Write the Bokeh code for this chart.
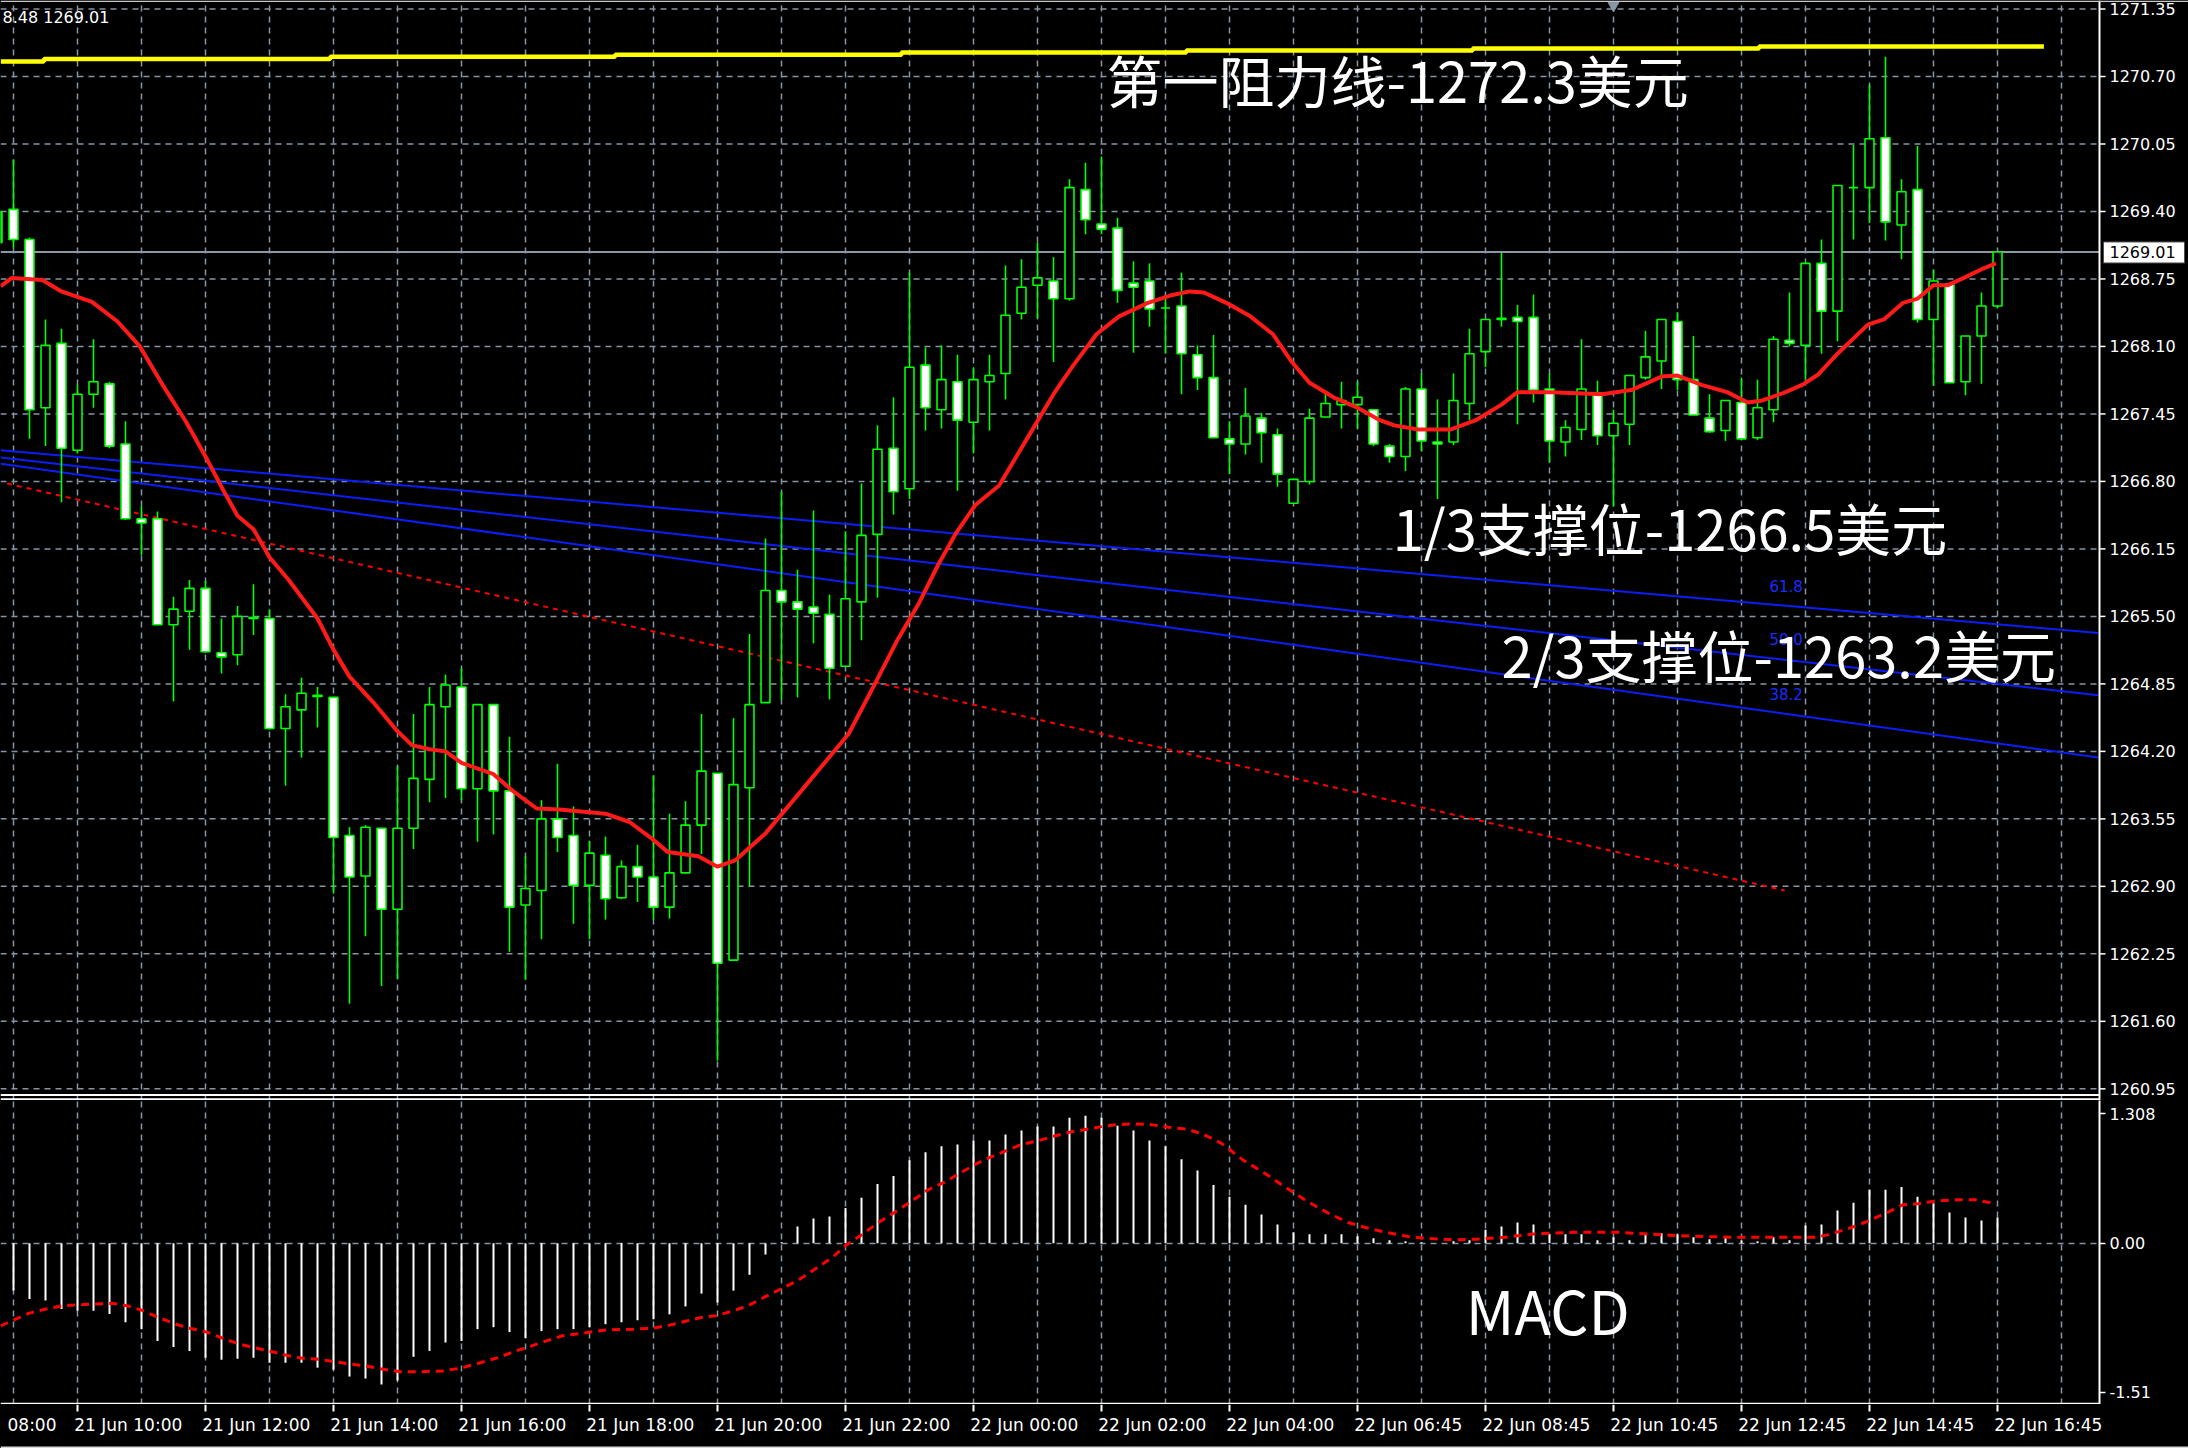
from bokeh.plotting import figure
from bokeh.layouts import column
from bokeh.models import Range1d, FixedTicker, Grid, CustomJSTickFormatter, Span
from bokeh.core.properties import value
from bokeh.embed import file_html
from bokeh.resources import INLINE

# ---------------- data ----------------
first_bar = -5   # bar index of first candle; bar 0 = 21 Jun 10:00, 15-minute bars

opens = [1269.40, 1269.42, 1269.13, 1267.51, 1268.13, 1267.10, 1267.64, 1267.74, 1267.16, 1266.44,
         1266.44, 1265.42, 1265.55, 1265.77, 1265.15, 1265.13, 1265.49, 1265.48, 1264.42, 1264.60,
         1264.74, 1264.72, 1263.39, 1263.00, 1263.46, 1262.68, 1263.46, 1263.93, 1264.63, 1264.82,
         1263.84, 1264.65, 1263.82, 1262.72, 1262.86, 1263.55, 1263.39, 1262.91, 1263.20, 1262.79,
         1263.09, 1262.99, 1262.70, 1263.03, 1263.49, 1263.99, 1262.19, 1263.85, 1264.67, 1265.75,
         1265.64, 1265.59, 1265.52, 1265.02, 1265.64, 1266.29, 1267.12, 1266.73, 1267.92, 1267.49,
         1267.76, 1267.37, 1267.76, 1267.84, 1268.42, 1268.69, 1268.73, 1268.56, 1269.61, 1269.28,
         1269.24, 1268.71, 1268.73, 1268.47, 1268.49, 1268.02, 1267.80, 1267.21, 1267.16, 1267.41,
         1267.25, 1266.59, 1266.80, 1267.42, 1267.54, 1267.54, 1267.49, 1267.14, 1267.04, 1267.69,
         1267.18, 1267.18, 1267.55, 1268.05, 1268.36, 1268.38, 1268.38, 1267.69, 1267.18, 1267.30,
         1267.65, 1267.24, 1267.35, 1267.80, 1267.96, 1268.34, 1267.78, 1267.41, 1267.29, 1267.56,
         1267.22, 1267.49, 1268.16, 1268.11, 1268.90, 1268.44, 1269.63, 1269.63, 1270.11, 1269.27,
         1269.61, 1268.36, 1268.70, 1267.76, 1268.20, 1268.49]
highs = [1269.45, 1269.90, 1269.15, 1268.36, 1268.27, 1267.73, 1268.17, 1267.76, 1267.38, 1266.56,
         1266.51, 1265.69, 1265.85, 1265.84, 1265.48, 1265.60, 1265.81, 1265.57, 1264.75, 1264.91,
         1264.82, 1264.72, 1263.47, 1263.49, 1263.46, 1264.06, 1264.56, 1264.82, 1264.94, 1265.00,
         1264.65, 1264.65, 1264.34, 1263.19, 1263.73, 1264.08, 1263.67, 1263.34, 1263.38, 1263.15,
         1263.30, 1263.97, 1263.60, 1263.72, 1264.56, 1263.99, 1264.52, 1265.33, 1266.25, 1266.70,
         1265.95, 1266.52, 1265.71, 1266.32, 1266.78, 1267.34, 1267.61, 1268.81, 1268.09, 1268.11,
         1268.02, 1267.90, 1268.02, 1268.88, 1268.94, 1269.10, 1268.96, 1269.71, 1269.87, 1269.93,
         1269.34, 1268.92, 1268.90, 1268.56, 1268.81, 1268.11, 1268.21, 1267.38, 1267.70, 1267.46,
         1267.31, 1266.82, 1267.50, 1267.65, 1267.76, 1267.76, 1267.49, 1267.16, 1267.71, 1267.84,
         1267.59, 1267.84, 1268.27, 1268.36, 1269.00, 1268.50, 1268.60, 1267.84, 1267.39, 1268.17,
         1267.77, 1267.49, 1267.82, 1268.25, 1268.36, 1268.43, 1268.20, 1267.64, 1267.58, 1267.80,
         1267.78, 1268.20, 1268.62, 1268.91, 1269.13, 1269.65, 1270.04, 1270.62, 1270.89, 1269.71,
         1270.03, 1268.84, 1268.70, 1268.20, 1268.62, 1269.00]
lows = [1269.06, 1269.05, 1267.21, 1267.14, 1266.60, 1267.07, 1267.51, 1267.12, 1266.43, 1266.09,
        1265.42, 1264.68, 1265.18, 1265.15, 1264.95, 1265.03, 1265.32, 1264.41, 1263.87, 1264.14,
        1264.43, 1262.83, 1261.77, 1262.42, 1261.94, 1262.01, 1263.26, 1263.71, 1263.75, 1263.73,
        1263.33, 1263.40, 1262.27, 1262.00, 1262.39, 1263.23, 1262.54, 1262.39, 1262.58, 1262.78,
        1262.75, 1262.58, 1262.59, 1263.03, 1263.21, 1261.22, 1262.19, 1262.90, 1264.67, 1264.70,
        1264.72, 1265.24, 1264.70, 1265.02, 1265.27, 1265.68, 1266.48, 1266.63, 1267.29, 1267.31,
        1266.71, 1267.07, 1267.29, 1267.59, 1268.36, 1268.37, 1267.95, 1268.54, 1269.18, 1269.18,
        1268.52, 1268.04, 1268.29, 1268.03, 1267.64, 1267.68, 1267.22, 1266.87, 1267.06, 1266.98,
        1266.75, 1266.59, 1266.77, 1267.42, 1267.31, 1267.31, 1267.14, 1266.98, 1266.90, 1267.09,
        1266.63, 1267.15, 1267.39, 1267.90, 1268.29, 1267.35, 1267.56, 1266.98, 1267.04, 1267.20,
        1267.15, 1266.56, 1267.15, 1267.78, 1267.69, 1267.68, 1267.44, 1267.27, 1267.19, 1267.21,
        1267.20, 1267.37, 1268.10, 1267.78, 1268.03, 1268.15, 1269.13, 1269.29, 1269.12, 1268.94,
        1268.33, 1267.72, 1267.75, 1267.63, 1267.74, 1268.47]
closes = [1269.10, 1269.13, 1267.49, 1268.11, 1267.12, 1267.64, 1267.76, 1267.14, 1266.44, 1266.40,
          1265.42, 1265.57, 1265.77, 1265.16, 1265.11, 1265.50, 1265.48, 1264.42, 1264.63, 1264.76,
          1264.73, 1263.37, 1262.99, 1263.47, 1262.68, 1263.46, 1263.94, 1264.65, 1264.84, 1263.84,
          1264.65, 1263.82, 1262.70, 1262.88, 1263.55, 1263.37, 1262.91, 1263.22, 1262.78, 1263.09,
          1262.99, 1262.70, 1263.03, 1263.49, 1264.01, 1262.16, 1263.88, 1264.65, 1265.75, 1265.64,
          1265.57, 1265.53, 1265.00, 1265.67, 1266.28, 1267.11, 1266.70, 1267.90, 1267.51, 1267.78,
          1267.39, 1267.78, 1267.82, 1268.40, 1268.67, 1268.76, 1268.56, 1269.63, 1269.32, 1269.23,
          1268.64, 1268.67, 1268.46, 1268.47, 1268.03, 1267.80, 1267.22, 1267.16, 1267.43, 1267.27,
          1266.87, 1266.82, 1267.41, 1267.55, 1267.58, 1267.61, 1267.16, 1267.04, 1267.69, 1267.19,
          1267.16, 1267.58, 1268.03, 1268.36, 1268.37, 1268.34, 1267.68, 1267.19, 1267.32, 1267.69,
          1267.24, 1267.36, 1267.82, 1268.00, 1268.36, 1267.78, 1267.44, 1267.28, 1267.58, 1267.21,
          1267.51, 1268.17, 1268.13, 1268.90, 1268.44, 1269.65, 1269.63, 1270.10, 1269.30, 1269.59,
          1268.36, 1268.73, 1267.75, 1268.20, 1268.49, 1269.01]

# moving average (red) sampled along its path: bar position, price
ma_x = [-4.8, -4.1, -2.2, -1.0, 0.9, 2.5, 3.9, 5.4, 6.8, 8.0, 9.2, 10.0, 11.0, 12.0, 13.2, 15.0,
        16.0, 17.0, 18.5, 19.9, 20.9, 22.0, 23.0, 24.0, 26.0, 27.2, 28.7, 30.1, 33.0, 34.5, 35.9,
        36.9, 38.8, 40.0, 41.1, 43.0, 44.8, 46.8, 48.2, 49.7, 51.2, 52.6, 53.8, 54.9, 56.1, 57.6,
        59.3, 61.0, 62.2, 63.7, 65.1, 66.9, 68.3, 69.5, 70.4, 71.8, 73.3, 74.7, 75.9, 77.0, 78.5,
        80.0, 81.4, 82.3, 83.8, 85.8, 87.4, 89.0, 90.0, 92.1, 95.3, 97.1, 99.0, 100.0, 101.5,
        103.1, 104.4, 105.3, 106.6, 107.8, 108.8, 110.0, 111.9, 112.9, 114.1, 115.0, 116.0,
        116.9, 117.9, 119.1, 119.9]
ma_y = [1268.68, 1268.76, 1268.74, 1268.63, 1268.53, 1268.34, 1268.10, 1267.71, 1267.37, 1267.04,
        1266.69, 1266.47, 1266.34, 1266.07, 1265.85, 1265.48, 1265.18, 1264.92, 1264.67, 1264.41,
        1264.26, 1264.22, 1264.20, 1264.09, 1263.98, 1263.82, 1263.65, 1263.64, 1263.60, 1263.52,
        1263.36, 1263.23, 1263.19, 1263.09, 1263.15, 1263.41, 1263.74, 1264.11, 1264.37, 1264.81,
        1265.26, 1265.63, 1266.00, 1266.30, 1266.57, 1266.76, 1267.20, 1267.64, 1267.91, 1268.22,
        1268.39, 1268.52, 1268.59, 1268.63, 1268.62, 1268.52, 1268.39, 1268.22, 1267.95, 1267.75,
        1267.61, 1267.51, 1267.39, 1267.34, 1267.30, 1267.30, 1267.39, 1267.54, 1267.66, 1267.66,
        1267.64, 1267.68, 1267.81, 1267.82, 1267.73, 1267.66, 1267.56, 1267.58, 1267.65, 1267.73,
        1267.83, 1268.03, 1268.31, 1268.36, 1268.52, 1268.56, 1268.69, 1268.69, 1268.76, 1268.85,
        1268.90]

# resistance (yellow step line)
res_x = [-4.8, -2.1, 15.8, 33.6, 51.5, 69.3, 87.2, 105.1, 122.9]
res_y = [1270.845, 1270.868, 1270.89, 1270.91, 1270.93, 1270.95, 1270.97, 1270.99, 1270.99]

# fibonacci channel lines (blue) end points
fib_x = [-4.8, 126.3]
fib_618 = [1267.10, 1265.34]
fib_500 = [1267.03, 1264.74]
fib_382 = [1266.97, 1264.14]
fib_label_x = 105.75
fib_labels = ["61.8", "50.0", "38.2"]
fib_label_y = [1265.797, 1265.287, 1264.752]

# red dotted trend line
trend_x = [-4.4, 106.7]
trend_y = [1266.78, 1262.86]

last_price = 1269.01

# MACD histogram (one value per bar) and signal line samples
macd_hist = [-0.42, -0.48, -0.565, -0.58, -0.667, -0.684, -0.684, -0.717, -0.80, -0.87,
             -0.99, -1.05, -1.09, -1.16, -1.18, -1.17, -1.16, -1.21, -1.21, -1.21,
             -1.26, -1.28, -1.35, -1.37, -1.43, -1.39, -1.15, -1.09, -1.005, -0.99,
             -0.87, -0.85, -0.90, -0.96, -0.89, -0.87, -0.87, -0.85, -0.82, -0.80,
             -0.78, -0.77, -0.72, -0.64, -0.51, -0.60, -0.48, -0.32, -0.115, 0.01,
             0.17, 0.25, 0.27, 0.355, 0.46, 0.60, 0.68, 0.84, 0.92, 0.98,
             1.00, 1.04, 1.04, 1.10, 1.14, 1.18, 1.18, 1.27, 1.29, 1.27,
             1.19, 1.14, 1.04, 0.98, 0.85, 0.735, 0.59, 0.47, 0.39, 0.29,
             0.19, 0.11, 0.09, 0.09, 0.09, 0.07, 0.05, 0.03, 0.02, 0.01,
             0.0, 0.02, 0.03, 0.135, 0.17, 0.21, 0.19, 0.09, 0.09, 0.09,
             0.03, 0.06, 0.03, 0.09, 0.10, 0.09, 0.06, 0.04, 0.06, 0.03,
             0.02, 0.06, 0.03, 0.18, 0.19, 0.33, 0.41, 0.54, 0.54, 0.57,
             0.47, 0.40, 0.31, 0.26, 0.23, 0.26]
sig_x = [-4.8, -3.9, -3.05, -2.0, -0.9, 0.9, 2.2, 3.1, 4.0, 5.05, 6.15, 7.0, 8.1, 9.2, 10.1, 11.0,
         12.1, 13.2, 14.05, 15.1, 16.0, 17.1, 18.0, 19.1, 20.2, 21.5, 22.8, 23.9, 25.0, 26.3, 27.4,
         28.1, 29.0, 30.3, 31.6, 32.9, 34.7, 36.0, 37.1, 38.0, 39.0, 39.9, 41.0, 41.9, 43.0, 44.1,
         45.0, 46.1, 47.2, 48.0, 49.1, 50.0, 51.1, 52.2, 53.1, 54.2, 55.1, 56.2, 57.0, 58.1, 59.0,
         60.1, 61.0, 62.1, 63.0, 64.0, 64.9, 66.0, 67.1, 68.2, 69.3, 70.4, 71.5, 72.9, 74.2, 75.5,
         76.8, 78.1, 79.4, 80.8, 82.1, 83.4, 84.8, 86.1, 87.4, 89.2, 91.0, 93.6, 96.3, 98.1, 99.8,
         101.6, 103.8, 106.9, 108.6, 109.5, 110.9, 112.0, 113.1, 114.1, 115.0, 116.1, 117.5,
         118.6, 119.9]
sig_y = [-0.836, -0.77, -0.71, -0.667, -0.633, -0.616, -0.609, -0.633, -0.677, -0.751, -0.82,
         -0.86, -0.90, -0.97, -1.02, -1.056, -1.096, -1.14, -1.164, -1.174, -1.198, -1.225, -1.242,
         -1.276, -1.30, -1.30, -1.293, -1.266, -1.218, -1.157, -1.09, -1.056, -1.005, -0.937, -0.91,
         -0.88, -0.87, -0.86, -0.826, -0.79, -0.751, -0.734, -0.684, -0.633, -0.541, -0.453, -0.379,
         -0.26, -0.142, -0.024, 0.095, 0.203, 0.315, 0.433, 0.535, 0.619, 0.704, 0.805, 0.866, 0.94,
         1.00, 1.04, 1.083, 1.127, 1.15, 1.18, 1.20, 1.207, 1.20, 1.173, 1.156, 1.10, 1.01, 0.836,
         0.708, 0.566, 0.43, 0.31, 0.21, 0.145, 0.10, 0.06, 0.044, 0.034, 0.04, 0.06, 0.094, 0.11,
         0.11, 0.094, 0.078, 0.067, 0.06, 0.06, 0.06, 0.088, 0.16, 0.23, 0.31, 0.39, 0.40, 0.425,
         0.44, 0.44, 0.40]

price_ticks = [1271.35, 1270.70, 1270.05, 1269.40, 1268.75, 1268.10, 1267.45, 1266.80, 1266.15,
               1265.50, 1264.85, 1264.20, 1263.55, 1262.90, 1262.25, 1261.60, 1260.95]
macd_ticks = [1.308, 0.0, -1.51]
time_tick_bars = [-8, 0, 8, 16, 24, 32, 40, 48, 56, 64, 72, 80, 88, 96, 104, 112, 120]
time_tick_labels = ["21 Jun 08:00", "21 Jun 10:00", "21 Jun 12:00", "21 Jun 14:00", "21 Jun 16:00",
                    "21 Jun 18:00", "21 Jun 20:00", "21 Jun 22:00", "22 Jun 00:00", "22 Jun 02:00",
                    "22 Jun 04:00", "22 Jun 06:45", "22 Jun 08:45", "22 Jun 10:45", "22 Jun 12:45",
                    "22 Jun 14:45", "22 Jun 16:45"]
grid_bars = list(range(-4, 125, 4))
shift_marker_bar = 96

notes = ["第一阻力线-1272.3美元", "1/3支撑位-1266.5美元", "2/3支撑位-1263.2美元"]
notes_x = [64.31, 82.2, 89.0]
notes_y = [1270.676, 1266.366, 1265.138]

# ---------------- geometry / styling ----------------
GRID = "#8595a5"
AXIS_FONT = "DejaVu Sans"
CJK = "Noto Sans CJK SC"
PX_PER_BAR = 16.0
PX_PER_PRICE = 103.83
X0 = -77 / PX_PER_BAR                 # left edge of chart
AXIS_X = (2099 - 77) / PX_PER_BAR     # price-axis line position (bar units)
X_FULL = (2188 - 77) / PX_PER_BAR     # right edge of window (bar units)
Y_TOP = 1271.35 + 8.5 / PX_PER_PRICE
Y_BOT = 1271.35 - (1100 - 8.5) / PX_PER_PRICE
MAIN_H = 1100
MACD_H = 304
MACD_TOP, MACD_BOT = 1.4443, -1.6326

bars = [first_bar + k for k in range(len(opens))]
body_top = [max(o, c) for o, c in zip(opens, closes)]
body_bot = [min(o, c) for o, c in zip(opens, closes)]
fills = ["#ffffff" if c < o else "#000000" for o, c in zip(opens, closes)]


def base_fig(fw, fh, x_range, y_range, right_border=0, yaxis=False):
    f = figure(frame_width=fw, frame_height=fh, x_range=x_range, y_range=y_range,
               x_axis_location=None, y_axis_location="right" if yaxis else None,
               background_fill_color="black", border_fill_color="black",
               outline_line_color=None, min_border_left=0, min_border_top=0,
               min_border_bottom=0, min_border_right=right_border,
               toolbar_location=None, output_backend="svg")
    f.grid.visible = False
    return f


# ---------------- main price panel (with the price scale drawn at its right) ----------------
pm = base_fig(2188, MAIN_H, Range1d(X0, X_FULL), Range1d(Y_BOT, Y_TOP))
pm.add_layout(Grid(dimension=0, ticker=FixedTicker(ticks=grid_bars), grid_line_color=GRID,
                   grid_line_dash="6 5", grid_line_width=1.5))
n_t = len(price_ticks)
pm.segment(x0=[X0] * n_t, y0=price_ticks, x1=[AXIS_X] * n_t, y1=price_ticks,
           line_color=GRID, line_dash="6 5", line_width=1.5)

pm.step(res_x, res_y, mode="after", line_color="#ffff00", line_width=4.5)
pm.line(fib_x, fib_618, line_color="#0a1ef5", line_width=2)
pm.line(fib_x, fib_500, line_color="#0a1ef5", line_width=2)
pm.line(fib_x, fib_382, line_color="#0a1ef5", line_width=2)
pm.text(x=[fib_label_x] * 3, y=fib_label_y, text=fib_labels, text_color="#1a2cff",
        text_font=value(AXIS_FONT), text_font_size="15px", text_baseline="alphabetic")
pm.line(trend_x, trend_y, line_color="#ff0000", line_width=2, line_dash="5 5")
pm.segment(x0=[X0], y0=[last_price], x1=[AXIS_X], y1=[last_price], line_color="#8a98a6",
           line_width=2)
# panel borders: bottom of price panel and top of MACD box
for yb in (Y_BOT + 5.5 / PX_PER_PRICE, Y_BOT + 1.2 / PX_PER_PRICE):
    pm.segment(x0=[X0], y0=[yb], x1=[AXIS_X], y1=[yb], line_color="white", line_width=2)
pm.add_layout(Span(location=Y_TOP - 0.8 / PX_PER_PRICE, dimension="width",
                   line_color="#c8c8c8", line_width=1.5))

pm.segment(x0=bars, y0=lows, x1=bars, y1=highs, line_color="#00ff00", line_width=1.6)
pm.vbar(x=bars, top=body_top, bottom=body_bot, width=0.56, fill_color=fills,
        line_color="#00ff00", line_width=1.6)
pm.line(ma_x, ma_y, line_color="#ff1a1a", line_width=4)

pm.text(x=notes_x, y=notes_y, text=notes, text_color="white", text_font=value(CJK),
        text_font_size="56px", text_baseline="alphabetic", text_align="left")
pm.text(x=[X0 + 2 / PX_PER_BAR], y=[1271.268], text=["8.48 1269.01"], text_color="white",
        text_font=value(AXIS_FONT), text_font_size="16px", text_baseline="alphabetic")
pm.scatter(x=[shift_marker_bar], y=[Y_TOP - 5 / PX_PER_PRICE], marker="inverted_triangle",
           size=11, fill_color="#8a98a6", line_color="#8a98a6")

# price scale: axis line, tick marks, labels, and the last-price box
pm.segment(x0=[AXIS_X], y0=[Y_BOT], x1=[AXIS_X], y1=[Y_TOP], line_color="white", line_width=2)
pm.segment(x0=[AXIS_X] * n_t, y0=price_ticks, x1=[AXIS_X + 6 / PX_PER_BAR] * n_t,
           y1=price_ticks, line_color="white", line_width=1.5)
label_x = AXIS_X + 10 / PX_PER_BAR
pm.text(x=[label_x] * n_t, y=price_ticks, text=["%.2f" % t for t in price_ticks],
        text_color="white", text_font=value(AXIS_FONT), text_font_size="16px",
        text_baseline="middle", text_align="left")
pm.quad(left=[AXIS_X + 4 / PX_PER_BAR], right=[X_FULL - 4 / PX_PER_BAR],
        top=[last_price + 10 / PX_PER_PRICE], bottom=[last_price - 11 / PX_PER_PRICE],
        fill_color="white", line_color="#505050", line_width=1)
pm.text(x=[label_x], y=[last_price], text=["%.2f" % last_price], text_color="black",
        text_font=value(AXIS_FONT), text_font_size="16px", text_baseline="middle",
        text_align="left")

# ---------------- MACD panel ----------------
pmacd = base_fig(2099, MACD_H, Range1d(X0, AXIS_X), Range1d(MACD_BOT, MACD_TOP),
                 right_border=89, yaxis=True)
ax = pmacd.yaxis[0]
ax.ticker = FixedTicker(ticks=macd_ticks)
ax.formatter = CustomJSTickFormatter(
    code="return Math.abs(tick - 1.308) < 1e-6 ? '1.308' : tick.toFixed(2);")
ax.axis_line_color = "white"
ax.axis_line_width = 2
ax.major_tick_line_color = "white"
ax.major_tick_line_width = 1.5
ax.major_tick_out = 6
ax.major_tick_in = 0
ax.minor_tick_line_color = None
ax.major_label_text_color = "white"
ax.major_label_text_font = AXIS_FONT
ax.major_label_text_font_size = "16px"
ax.major_label_standoff = 4
pmacd.add_layout(Grid(dimension=0, ticker=FixedTicker(ticks=grid_bars), grid_line_color=GRID,
                      grid_line_dash="6 5", grid_line_width=1.5))
pmacd.add_layout(Grid(dimension=1, ticker=FixedTicker(ticks=[0.0]), grid_line_color=GRID,
                      grid_line_dash="6 5", grid_line_width=1.5))
pmacd.add_layout(Span(location=MACD_BOT + 0.7 / 98.8, dimension="width", line_color="white",
                      line_width=2))
pmacd.segment(x0=bars, y0=[0.0] * len(bars), x1=bars, y1=macd_hist, line_color="white",
              line_width=2)
pmacd.line(sig_x, sig_y, line_color="#ff0000", line_width=3, line_dash="8 6")
pmacd.text(x=[86.76], y=[-0.656], text=["MACD"], text_color="white", text_font=value(CJK),
           text_font_size="60px", text_baseline="alphabetic")

# ---------------- time axis strip ----------------
pt = base_fig(2188, 44, Range1d(X0, X_FULL), Range1d(44, 0))
nt = len(time_tick_bars)
pt.segment(x0=time_tick_bars, y0=[0] * nt, x1=time_tick_bars, y1=[7] * nt,
           line_color="white", line_width=2)
lab_x, lab_t = [], []
for b, lab in zip(time_tick_bars, time_tick_labels):
    if b - 0.2 < X0:       # label scrolled past the left edge: only its time part shows
        lab_x.append(X0 + 7 / PX_PER_BAR)
        lab_t.append(lab.split()[-1])
    else:
        lab_x.append(b - 0.2)
        lab_t.append(lab)
pt.text(x=lab_x, y=[10] * nt, text=lab_t, text_color="white", text_font=value(AXIS_FONT),
        text_font_size="17px", text_baseline="top", text_align="left")
pt.segment(x0=[X0], y0=[43], x1=[X_FULL], y1=[43], line_color="#d8d8d8", line_width=2)

layout = column(pm, pmacd, pt, spacing=0)
layout.background = "black"
open("out.html", "w").write(file_html(layout, INLINE))
